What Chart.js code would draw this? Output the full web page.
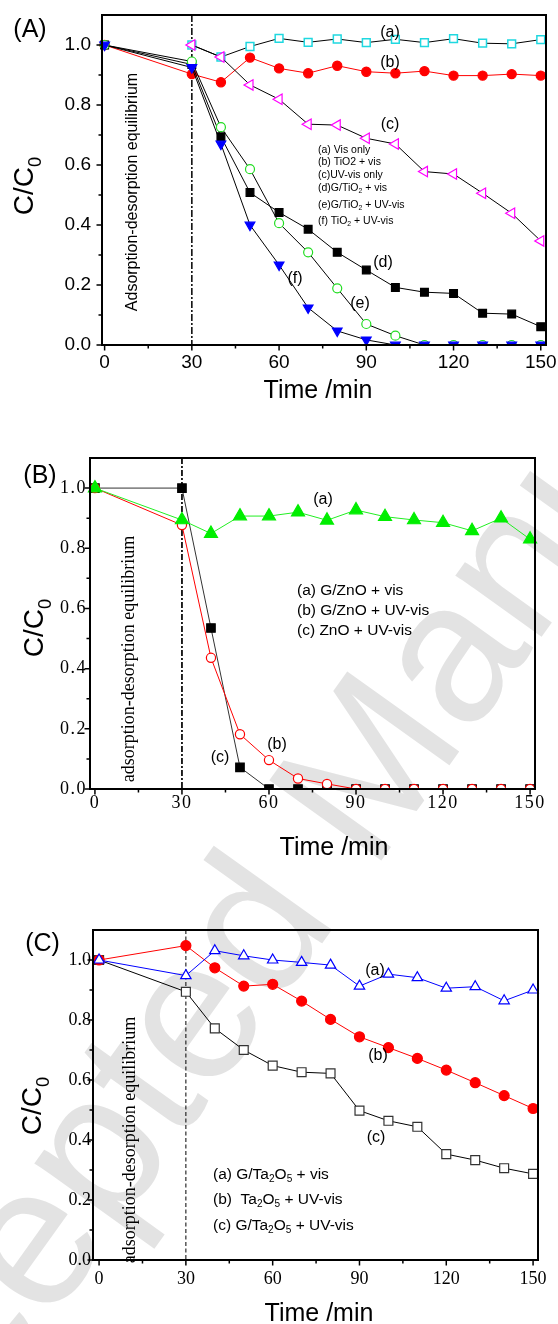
<!DOCTYPE html>
<html><head><meta charset="utf-8">
<script src="https://cdn.jsdelivr.net/npm/chart.js@4.4.0/dist/chart.umd.min.js"></script>
<style>
html,body{margin:0;padding:0;background:#fff;overflow:hidden;width:558px;height:1324px;}
canvas{position:absolute;left:0;top:0;}
</style></head><body>
<canvas id="cA" width="558" height="1324"></canvas>
<canvas id="cB" width="558" height="1324"></canvas>
<canvas id="cC" width="558" height="1324"></canvas>
<script>
// ---------------- DATA ----------------
const timeMin = [0, 30, 40, 50, 60, 70, 80, 90, 100, 110, 120, 130, 140, 150];
const xTickLabels = [0, 30, 60, 90, 120, 150];
const xMinorTicks = [15, 45, 75, 105, 135];
const yTickValues = [0, 0.2, 0.4, 0.6, 0.8, 1.0];
const yMinorTicks = [0.1, 0.3, 0.5, 0.7, 0.9];

// Panel A
const aVisOnly     = [null, 1.0, 0.96, 0.995, 1.022, 1.009, 1.02, 1.008, 1.019, 1.008, 1.021, 1.006, 1.004, 1.018];
const aTiO2Vis     = [1.0, 0.903, 0.876, 0.958, 0.922, 0.906, 0.931, 0.911, 0.906, 0.913, 0.898, 0.898, 0.903, 0.898];
const aUVvisOnly   = [null, 1.0, 0.96, 0.867, 0.819, 0.736, 0.733, 0.689, 0.67, 0.578, 0.57, 0.506, 0.439, 0.347];
const aGTiO2Vis    = [1.0, 0.935, 0.694, 0.508, 0.442, 0.386, 0.309, 0.25, 0.192, 0.176, 0.172, 0.106, 0.103, 0.061];
const aGTiO2UVvis  = [1.0, 0.945, 0.726, 0.586, 0.406, 0.309, 0.189, 0.07, 0.031, 0.0, 0.0, 0.0, 0.0, 0.0];
const aTiO2UVvis   = [1.0, 0.925, 0.67, 0.40, 0.267, 0.124, 0.047, 0.017, 0.0, 0.0, 0.0, 0.0, 0.0, 0.0];

// Panel B
const bGZnOVis     = [1.0, 0.894, 0.849, 0.907, 0.907, 0.92, 0.893, 0.927, 0.905, 0.894, 0.885, 0.858, 0.90, 0.83];
const bGZnOUVvis   = [1.0, 0.877, 0.436, 0.182, 0.096, 0.035, 0.017, 0.0, 0.0, 0.0, 0.0, 0.0, 0.0, 0.0];
const bZnOUVvis    = [1.0, 1.0, 0.535, 0.072, 0.0, 0.0, 0.0, 0.0, 0.0, 0.0, 0.0, 0.0, 0.0, 0.0];

// Panel C
const cGTa2O5Vis   = [1.0, 0.948, 1.031, 1.014, 1.0, 0.992, 0.983, 0.913, 0.953, 0.941, 0.906, 0.911, 0.864, 0.90];
const cTa2O5UVvis  = [1.0, 1.048, 0.974, 0.913, 0.919, 0.863, 0.802, 0.744, 0.708, 0.672, 0.633, 0.591, 0.548, 0.505];
const cGTa2O5UVvis = [1.0, 0.894, 0.772, 0.70, 0.648, 0.626, 0.622, 0.498, 0.464, 0.444, 0.353, 0.333, 0.306, 0.287];

// ---------------- HELPERS ----------------
const SANS = '"Liberation Sans", Arial, Helvetica, sans-serif';
const SERIF = '"Liberation Serif", "Times New Roman", Times, serif';
const pts = vals => timeMin.map((t, i) => ({ x: t, y: vals[i] }));

function richText(ctx, str, x, y, size, family, align, baseline) {
  const parts = []; const re = /_(.)/g; let last = 0, m;
  while ((m = re.exec(str))) {
    if (m.index > last) parts.push({ t: str.slice(last, m.index), sub: false });
    parts.push({ t: m[1], sub: true }); last = re.lastIndex;
  }
  if (last < str.length) parts.push({ t: str.slice(last), sub: false });
  const fN = size + 'px ' + family, fS = (size * 0.65) + 'px ' + family;
  let w = 0;
  parts.forEach(p => { ctx.font = p.sub ? fS : fN; p.w = ctx.measureText(p.t).width; w += p.w; });
  let cx = align === 'center' ? x - w / 2 : (align === 'right' ? x - w : x);
  ctx.textAlign = 'left'; ctx.textBaseline = baseline || 'middle';
  parts.forEach(p => { ctx.font = p.sub ? fS : fN; ctx.fillText(p.t, cx, y + (p.sub ? size * 0.3 : 0)); cx += p.w; });
}

const deco = {
  id: 'deco',
  beforeDraw(chart, args, o) {
    const ctx = chart.ctx;
    if (o.watermark) {
      const w = o.watermark;
      ctx.save();
      ctx.translate(w.x, w.y); ctx.rotate(w.angle * Math.PI / 180);
      ctx.font = w.size + 'px ' + SANS; ctx.fillStyle = w.color;
      ctx.textAlign = 'left'; ctx.textBaseline = 'alphabetic';
      ctx.fillText(w.text, 0, 0);
      ctx.restore();
    }
    ctx.letterSpacing = o.tickSpacing || '0px';
  },
  beforeDatasetsDraw(chart, args, o) {
    const { ctx, chartArea: a, scales: { x } } = chart;
    ctx.letterSpacing = '0px';
    const px = x.getPixelForValue(o.vline.value);
    ctx.save();
    ctx.strokeStyle = '#000'; ctx.lineWidth = o.vline.width; ctx.setLineDash(o.vline.dash);
    ctx.beginPath(); ctx.moveTo(px, a.top); ctx.lineTo(px, a.bottom); ctx.stroke();
    ctx.restore();
  },
  afterDraw(chart, args, o) {
    const { ctx, chartArea: a, scales: { x, y } } = chart;
    ctx.save();
    ctx.letterSpacing = '0px';
    ctx.setLineDash([]); ctx.strokeStyle = '#000'; ctx.fillStyle = '#000';
    // ticks
    ctx.lineWidth = 1.5; ctx.beginPath();
    xTickLabels.forEach(v => { const p = x.getPixelForValue(v); ctx.moveTo(p, a.bottom); ctx.lineTo(p, a.bottom + 5.5); });
    xMinorTicks.forEach(v => { const p = x.getPixelForValue(v); ctx.moveTo(p, a.bottom); ctx.lineTo(p, a.bottom + 3.5); });
    yTickValues.forEach(v => { const p = y.getPixelForValue(v); ctx.moveTo(a.left, p); ctx.lineTo(a.left - 5.5, p); });
    yMinorTicks.forEach(v => { const p = y.getPixelForValue(v); ctx.moveTo(a.left, p); ctx.lineTo(a.left - 3.5, p); });
    ctx.stroke();
    // frame
    ctx.lineWidth = 2;
    ctx.strokeRect(a.left, a.top, a.right - a.left, a.bottom - a.top);
    // panel label
    richText(ctx, o.panel.t, o.panel.x, o.panel.y, o.panel.size, SANS, 'center', 'middle');
    // x title
    richText(ctx, o.xTitle.t, o.xTitle.x, o.xTitle.y, o.xTitle.size, SANS, 'center', 'alphabetic');
    // y title (rotated)
    ctx.save(); ctx.translate(o.yTitle.x, o.yTitle.y); ctx.rotate(-Math.PI / 2);
    richText(ctx, o.yTitle.t, 0, 0, o.yTitle.size, SANS, 'center', 'alphabetic');
    ctx.restore();
    // rotated equilibrium text
    ctx.save(); ctx.translate(o.rot.x, o.rot.y); ctx.rotate(-Math.PI / 2);
    richText(ctx, o.rot.t, 0, 0, o.rot.size, o.rot.family, 'center', 'alphabetic');
    ctx.restore();
    // curve labels
    o.labels.forEach(l => richText(ctx, l.t, l.x, l.y, o.labelSize, SANS, 'center', 'middle'));
    // legend text
    o.legend.lines.forEach(l => richText(ctx, l.t, o.legend.x, l.y, o.legend.size, SANS, 'left', 'middle'));
    ctx.restore();
  }
};

function series(label, vals, st) {
  return Object.assign({
    label, data: pts(vals), borderWidth: 1, tension: 0, spanGaps: false,
    pointBorderWidth: 1.2, clip: { left: 10, top: 10, right: 10, bottom: 0 }
  }, st);
}

function makeChart(id, p) {
  return new Chart(document.getElementById(id), {
    type: 'line',
    data: { datasets: p.datasets },
    options: {
      responsive: false, animation: false, events: [],
      layout: { autoPadding: false, padding: { left: 0, top: p.area.top, right: 558 - p.area.right, bottom: 1324 - p.area.bottom - 60 } },
      plugins: { legend: { display: false }, tooltip: { enabled: false }, deco: p.deco },
      scales: {
        x: {
          type: 'linear', min: p.xmin, max: p.xmax,
          grid: { display: false, drawTicks: false }, border: { display: false },
          afterBuildTicks: s => { s.ticks = xTickLabels.map(v => ({ value: v })); },
          afterFit: s => { s.height = 60; s.paddingLeft = 0; s.paddingRight = 0; },
          ticks: { font: p.tickFont, color: '#000', padding: p.xPad, maxRotation: 0, autoSkip: false, callback: v => String(v) }
        },
        y: {
          type: 'linear', min: 0, max: 1.1,
          grid: { display: false, drawTicks: false }, border: { display: false },
          afterBuildTicks: s => { s.ticks = yTickValues.map(v => ({ value: v })); },
          afterFit: s => { s.width = p.area.left; s.paddingTop = 0; s.paddingBottom = 0; },
          ticks: { font: p.tickFont, color: '#000', padding: p.yPad, autoSkip: false, callback: v => Number(v).toFixed(1) }
        }
      }
    },
    plugins: [deco]
  });
}

// ---------------- PANEL A ----------------
makeChart('cA', {
  area: { left: 102, right: 546, top: 15, bottom: 345 }, xmin: -0.9, xmax: 151.8,
  tickFont: { family: SANS, size: 19 }, xPad: 6, yPad: 11,
  datasets: [
    series('(a) Vis only', aVisOnly, { order: 5, borderColor: '#000', pointStyle: 'rect', pointRadius: 5.5, pointBorderColor: '#1fd8e0', pointBackgroundColor: '#fff', pointBorderWidth: 1.5 }),
    series('(b) TiO2 + vis', aTiO2Vis, { order: 4, borderColor: '#ff0000', pointStyle: 'circle', pointRadius: 4.6, pointBorderColor: '#ff0000', pointBackgroundColor: '#ff0000' }),
    series('(c) UV-vis only', aUVvisOnly, { order: 3, borderColor: '#000', pointStyle: 'triangle', pointRotation: -90, pointRadius: 6, pointBorderColor: '#ff00ff', pointBackgroundColor: '#fff' }),
    series('(d) G/TiO2 + vis', aGTiO2Vis, { order: 2, borderColor: '#000', pointStyle: 'rect', pointRadius: 5.5, pointBorderColor: '#000', pointBackgroundColor: '#000' }),
    series('(e) G/TiO2 + UV-vis', aGTiO2UVvis, { order: 1, borderColor: '#000', pointStyle: 'circle', pointRadius: 4.5, pointBorderColor: '#22dd22', pointBackgroundColor: '#fff' }),
    series('(f) TiO2 + UV-vis', aTiO2UVvis, { order: 0, borderColor: '#000', pointStyle: 'triangle', pointRotation: 180, pointRadius: 5.6, pointBorderColor: '#0000ff', pointBackgroundColor: '#0000ff' })
  ],
  deco: {
    watermark: { text: 'Accepted Manuscript', x: -146, y: 1597, angle: -54.4, size: 200, color: '#e3e3e3' },
    vline: { value: 30, width: 1.5, dash: [7, 2, 2, 2] },
    panel: { t: '(A)', x: 30, y: 30, size: 25 },
    xTitle: { t: 'Time /min', x: 318, y: 398, size: 25 },
    yTitle: { t: 'C/C_0', x: 33, y: 186, size: 28 },
    rot: { t: 'Adsorption-desorption equilibrium', x: 136.5, y: 192, size: 16, family: SANS },
    labelSize: 16,
    labels: [{ t: '(a)', x: 390, y: 33 }, { t: '(b)', x: 390, y: 63 }, { t: '(c)', x: 390, y: 125 },
             { t: '(d)', x: 383, y: 263 }, { t: '(e)', x: 360, y: 304 }, { t: '(f)', x: 295, y: 279 }],
    legend: { x: 318, size: 10.5, lines: [
      { t: '(a) Vis only', y: 150 }, { t: '(b) TiO2 + vis', y: 162.5 }, { t: '(c)UV-vis only', y: 175.3 },
      { t: '(d)G/TiO_2 + vis', y: 188.3 }, { t: '(e)G/TiO_2 + UV-vis', y: 205 }, { t: '(f) TiO_2 + UV-vis', y: 221 }] }
  }
});

// ---------------- PANEL B ----------------
makeChart('cB', {
  area: { left: 90, right: 535, top: 458, bottom: 789 }, xmin: -1.7, xmax: 151.7,
  tickFont: { family: SERIF, size: 18 }, xPad: 3, yPad: 3,
  datasets: [
    series('(a) G/ZnO + vis', bGZnOVis, { order: 0, borderColor: '#22ee22', pointStyle: 'triangle', pointRadius: 7.5, pointBorderColor: '#00ee00', pointBackgroundColor: '#00ee00' }),
    series('(b) G/ZnO + UV-vis', bGZnOUVvis, { order: 1, borderColor: '#ff0000', pointStyle: 'circle', pointRadius: 4.6, pointBorderColor: '#ff0000', pointBackgroundColor: '#fff' }),
    series('(c) ZnO + UV-vis', bZnOUVvis, { order: 2, borderColor: '#333', pointStyle: 'rect', pointRadius: 6, pointBorderColor: '#000', pointBackgroundColor: '#000' })
  ],
  deco: {
    tickSpacing: '1.5px',
    vline: { value: 30, width: 1.7, dash: [6, 2, 2, 2] },
    panel: { t: '(B)', x: 40, y: 476, size: 25 },
    xTitle: { t: 'Time /min', x: 334, y: 855, size: 25 },
    yTitle: { t: 'C/C_0', x: 43, y: 628, size: 28 },
    rot: { t: 'adsorption-desorption equilibrium', x: 134, y: 659, size: 18, family: SERIF },
    labelSize: 16,
    labels: [{ t: '(a)', x: 323, y: 500 }, { t: '(b)', x: 277, y: 745 }, { t: '(c)', x: 220, y: 758 }],
    legend: { x: 297, size: 15.5, lines: [
      { t: '(a) G/ZnO + vis', y: 590.7 }, { t: '(b) G/ZnO + UV-vis', y: 610.7 }, { t: '(c) ZnO + UV-vis', y: 630.7 }] }
  }
});

// ---------------- PANEL C ----------------
makeChart('cC', {
  area: { left: 93, right: 538, top: 930, bottom: 1260 }, xmin: -2.1, xmax: 151.7,
  tickFont: { family: SERIF, size: 18 }, xPad: 8, yPad: 2,
  datasets: [
    series('(a) G/Ta2O5 + vis', cGTa2O5Vis, { order: 0, borderColor: '#0000ff', pointStyle: 'triangle', pointRadius: 6, pointBorderColor: '#0000ff', pointBackgroundColor: '#fff' }),
    series('(b) Ta2O5 + UV-vis', cTa2O5UVvis, { order: 1, borderColor: '#ff0000', pointStyle: 'circle', pointRadius: 5, pointBorderColor: '#ff0000', pointBackgroundColor: '#ff0000' }),
    series('(c) G/Ta2O5 + UV-vis', cGTa2O5UVvis, { order: 2, borderColor: '#000', pointStyle: 'rect', pointRadius: 6.3, pointBorderColor: '#333', pointBackgroundColor: '#fff' })
  ],
  deco: {
    vline: { value: 30, width: 1, dash: [4, 2.5] },
    panel: { t: '(C)', x: 42.5, y: 944, size: 25 },
    xTitle: { t: 'Time /min', x: 319, y: 1321, size: 25 },
    yTitle: { t: 'C/C_0', x: 41, y: 1106, size: 28 },
    rot: { t: 'adsorption-desorption equilibrium', x: 135, y: 1140, size: 18, family: SERIF },
    labelSize: 16,
    labels: [{ t: '(a)', x: 375, y: 971 }, { t: '(b)', x: 378, y: 1056 }, { t: '(c)', x: 376, y: 1138 }],
    legend: { x: 213, size: 15.5, lines: [
      { t: '(a) G/Ta_2O_5 + vis', y: 1175 }, { t: '(b)  Ta_2O_5 + UV-vis', y: 1200 }, { t: '(c) G/Ta_2O_5 + UV-vis', y: 1225.7 }] }
  }
});
</script></body></html>
